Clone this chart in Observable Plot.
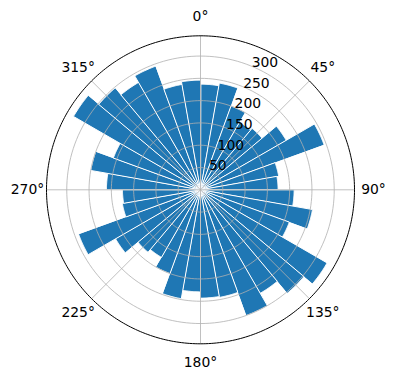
<!DOCTYPE html>
<html>
<head>
<meta charset="utf-8">
<script src="https://cdn.jsdelivr.net/npm/d3@7"></script>
<script src="https://cdn.jsdelivr.net/npm/@observablehq/plot@0.6"></script>
<style>
  html, body { margin: 0; padding: 0; background: #fff; }
  #chart svg { display: block; }
</style>
</head>
<body>
<div id="chart"></div>
<script>
// 36 bins of 10°, clockwise from north
const binStartDeg = d3.range(0, 360, 10);
const counts = [
  237, 243, 200, 175, 180, 222, 295, 178, 174,
  210, 255, 212, 328, 303, 268, 300, 245, 243,
  229, 248, 200, 175, 183, 220, 291, 178, 175,
  211, 250, 208, 329, 298, 278, 295, 240, 246
];
const binWidthDeg = 10;
const angleTicks = [0, 45, 90, 135, 180, 225, 270, 315];
const radialTicks = [50, 100, 150, 200, 250, 300];

const rmax = d3.max(counts) * 1.05;
const rad = d => d * Math.PI / 180;
const px = (r, deg) => r * Math.sin(rad(deg));
const py = (r, deg) => r * Math.cos(rad(deg));

// bar wedges (origin + arc)
const wedges = [];
binStartDeg.forEach((a0, i) => {
  const v = counts[i];
  wedges.push({bin: i, x: 0, y: 0});
  for (let k = 0; k <= 20; k++) {
    const a = a0 + binWidthDeg * k / 20;
    wedges.push({bin: i, x: px(v, a), y: py(v, a)});
  }
});

// ring gridlines
const rings = [];
radialTicks.forEach(r => {
  for (let k = 0; k < 180; k++) {
    const a = k * 2;
    rings.push({r, x: px(r, a), y: py(r, a)});
  }
});
const outer = d3.range(0, 360, 1).map(a => ({x: px(rmax, a), y: py(rmax, a)}));

const labelR = rmax * 173 / 154;

const W = 396, H = 380;
const chart = Plot.plot({
  width: W,
  height: H,
  marginLeft: 46,
  marginRight: 42,
  marginTop: 35.3,
  marginBottom: 36.7,
  x: {domain: [-rmax, rmax], axis: null},
  y: {domain: [-rmax, rmax], axis: null},
  style: {fontFamily: "DejaVu Sans, sans-serif", fontSize: "13.9px", background: "#fff", color: "#000"},
  marks: [
    Plot.line(wedges, {x: "x", y: "y", z: "bin", curve: "linear-closed", fill: "#1f77b4", stroke: "#fff", strokeWidth: 1}),
    Plot.line(rings, {x: "x", y: "y", z: "r", curve: "linear-closed", stroke: "#b0b0b0", strokeWidth: 0.8}),
    Plot.link(angleTicks, {x1: 0, y1: 0, x2: d => px(rmax, d), y2: d => py(rmax, d), stroke: "#b0b0b0", strokeWidth: 0.8}),
    Plot.line(outer, {x: "x", y: "y", curve: "linear-closed", stroke: "#000", strokeWidth: 1}),
    Plot.text(angleTicks, {x: d => px(labelR, d), y: d => py(labelR, d), text: d => d + "°", fill: "#000", textAnchor: "middle", lineAnchor: "middle"}),
    Plot.text(radialTicks, {x: d => px(d, 22.5), y: d => py(d, 22.5), text: d => String(d), fill: "#000", textAnchor: "start", lineAnchor: "bottom", dy: 1})
  ]
});
document.getElementById("chart").appendChild(chart);
</script>
</body>
</html>
